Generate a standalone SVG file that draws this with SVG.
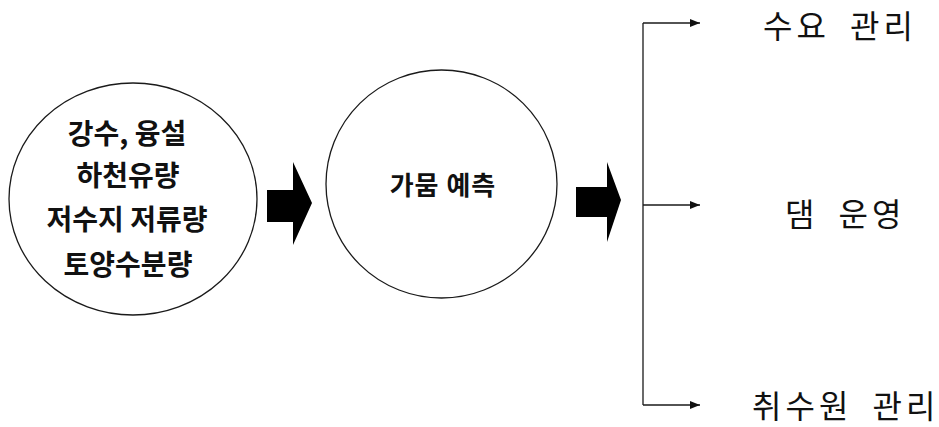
<svg xmlns="http://www.w3.org/2000/svg" width="939" height="427" viewBox="0 0 939 427">
<style>
.node{fill:#fff;stroke:#1a1a1a;stroke-width:1.3}
.t{font-family:"Noto Sans CJK KR","Noto Sans",sans-serif;fill:#111;text-anchor:middle;dominant-baseline:central}
.in{font-size:28px;font-weight:bold}
.mid{font-size:26px;font-weight:bold;letter-spacing:1px}
.out{font-size:32px;font-weight:normal;text-anchor:start;letter-spacing:4px;word-spacing:9px}
.ln{fill:none;stroke:#1a1a1a;stroke-width:1.3}
.big{fill:#000}
</style>
<defs>
<marker id="ah" markerWidth="10" markerHeight="8" refX="10" refY="4" orient="auto" markerUnits="userSpaceOnUse">
<path d="M0,0 L10,4 L0,8 Z" fill="#111"/>
</marker>
</defs>
<g id="node-inputs">
<ellipse class="node" cx="133" cy="199" rx="124" ry="116"/>
<text class="t in" x="127" y="132">강수, 융설</text>
<text class="t in" x="128" y="174">하천유량</text>
<text class="t in" x="127" y="218">저수지 저류량</text>
<text class="t in" x="128" y="263">토양수분량</text>
</g>
<g id="node-forecast">
<ellipse class="node" cx="441.5" cy="184" rx="115.5" ry="114"/>
<text class="t mid" x="443" y="183">가뭄 예측</text>
</g>
<g id="node-demand">
<text class="t out" x="763" y="24">수요 관리</text>
</g>
<g id="node-dam">
<text class="t out" x="785" y="212">댐 운영</text>
</g>
<g id="node-intake">
<text class="t out" x="752" y="404">취수원 관리</text>
</g>
<g id="connectors">
<path class="big" d="M267,190 L293,190 L293,162 L312,203 L293,245 L293,222 L267,222 Z"/>
<path class="big" d="M576,187 L607,187 L607,162 L621,200 L607,242 L607,217 L576,217 Z"/>
<path class="ln" d="M643,23 L643,405"/>
<path class="ln" d="M643,23 L700,23" marker-end="url(#ah)"/>
<path class="ln" d="M643,205 L700,205" marker-end="url(#ah)"/>
<path class="ln" d="M643,405 L700,405" marker-end="url(#ah)"/>
</g>
</svg>
